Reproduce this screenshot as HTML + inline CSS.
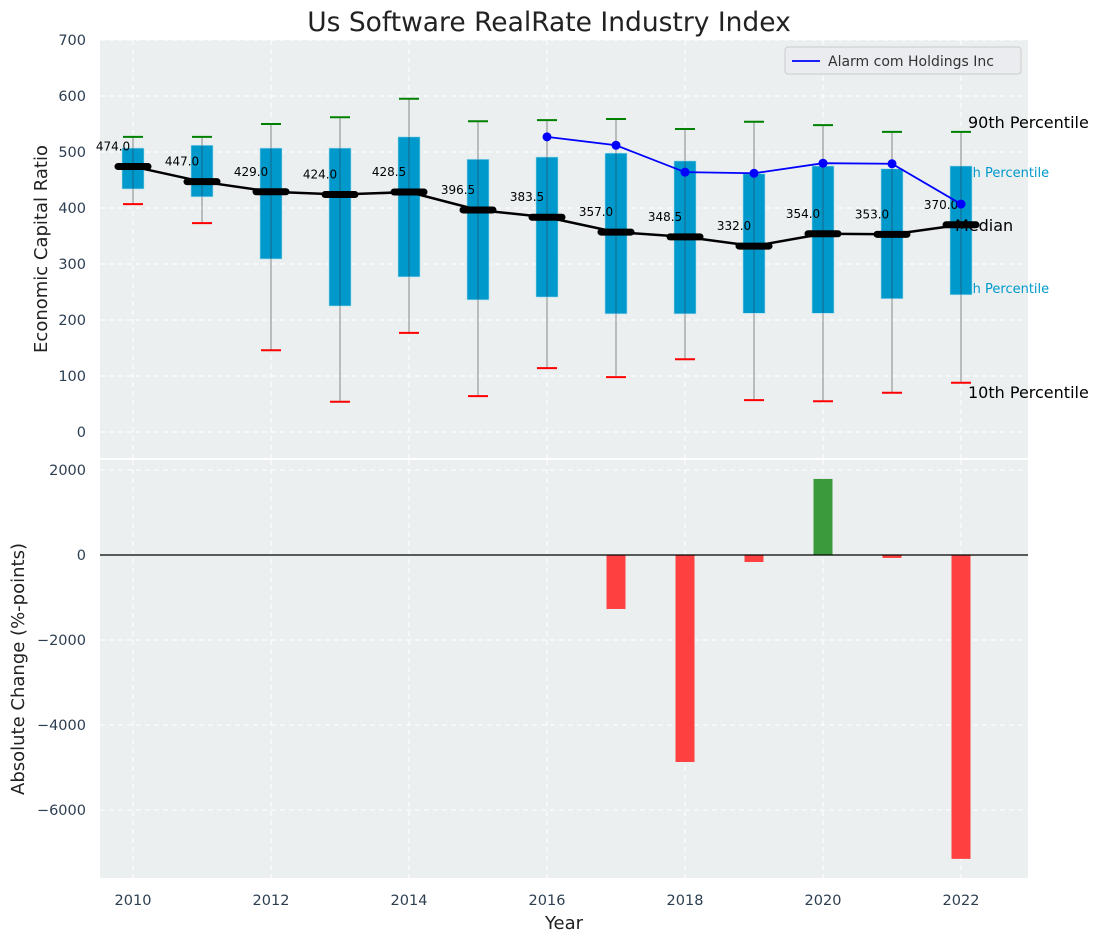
<!DOCTYPE html>
<html><head><meta charset="utf-8"><style>
body{margin:0;background:#fff;}
svg{display:block;font-family:"DejaVu Sans","Liberation Sans",sans-serif;}
</style></head><body>
<svg id="chart" width="1103" height="942" xmlns="http://www.w3.org/2000/svg"></svg>
<script>
const years=[2010,2011,2012,2013,2014,2015,2016,2017,2018,2019,2020,2021,2022];
const p90=[527,527,550,562,595,555,557,559,541,554,548,536,536];
const q75=[507,512,507,507,527,487,491,498,484,461,475,470,475];
const median=[474,447,429,424,428.5,396.5,383.5,357,348.5,332,354,353,370];
const q25=[434,420,309,225,277,236,241,211,211,212,212,238,245];
const p10=[407,373,146,54,177,64,114,98,130,57,55,70,88];
const compYears=[2016,2017,2018,2019,2020,2021,2022];
const compVals=[527,512,464,462,480,479,407];
const changeYears=[2017,2018,2019,2020,2021,2022];
const changeVals=[-1270,-4870,-165,1790,-70,-7150];
const topTicks=[0,100,200,300,400,500,600,700];
const botTicks=[2000,0,-2000,-4000,-6000];
const xTicks=[2010,2012,2014,2016,2018,2020,2022];

const NS="http://www.w3.org/2000/svg";
const svg=document.getElementById('chart');
function el(tag,attrs,parent){const e=document.createElementNS(NS,tag);for(const k in attrs)e.setAttribute(k,attrs[k]);(parent||svg).appendChild(e);return e;}
function txt(s,attrs,parent){const e=el('text',attrs,parent);e.textContent=s;return e;}
const L=100,R=1028,T1=40,B1=458,T2=460,B2=878;
const x=v=>133+(v-2010)*69;
const y1=v=>432-v*0.56;
const y2=v=>555-v*85/2000;

let r=el('rect',{x:L,y:T1,width:R-L,height:B1-T1,fill:'#ebeff0'});

r=el('rect',{x:L,y:T2,width:R-L,height:B2-T2,fill:'#ebeff0'});


for(const t of topTicks){el('line',{x1:L,x2:R,y1:y1(t),y2:y1(t),stroke:'#fff','stroke-dasharray':'5,4','stroke-width':1});
 const tl=txt(t,{x:L-14,y:y1(t)+5,'text-anchor':'end','font-size':14.5,fill:'#2c3e50'});
 }
for(const t of botTicks){el('line',{x1:L,x2:R,y1:y2(t),y2:y2(t),stroke:'#fff','stroke-dasharray':'5,4','stroke-width':1});
 const tl=txt(String(t).replace('-','\u2212'),{x:L-14,y:y2(t)+5,'text-anchor':'end','font-size':14.5,fill:'#2c3e50'});
 }
for(const t of xTicks){
 el('line',{x1:x(t),x2:x(t),y1:T1,y2:B1,stroke:'#fff','stroke-dasharray':'5,4'});
 el('line',{x1:x(t),x2:x(t),y1:T2,y2:B2,stroke:'#fff','stroke-dasharray':'5,4'});
 const tl=txt(t,{x:x(t),y:B2+27,'text-anchor':'middle','font-size':14.5,fill:'#2c3e50'});
 }

const lab=(s,a,n)=>{const t=txt(s,a);return t;};
lab('75th Percentile',{x:951,y:y1(q75[12])+11,'font-size':13,fill:'#0099cc'},'q75-label');
lab('25th Percentile',{x:951,y:y1(q25[12])-2,'font-size':13,fill:'#0099cc'},'q25-label');

years.forEach((yr,i)=>{
 const cx=x(yr);
 const g=el('g',{});
 el('line',{x1:cx,x2:cx,y1:y1(p90[i]),y2:y1(p10[i]),stroke:'#888','stroke-width':1},g);
 el('rect',{x:cx-11,y:y1(q75[i]),width:22,height:y1(q25[i])-y1(q75[i]),fill:'#0099cc',stroke:'#a8dcec','stroke-width':0.6},g);
 el('line',{x1:cx,x2:cx,y1:y1(q75[i]),y2:y1(q25[i]),stroke:'#334','stroke-width':1,opacity:0.5},g);
 el('line',{x1:cx-10,x2:cx+10,y1:y1(p90[i]),y2:y1(p90[i]),stroke:'green','stroke-width':2},g);
 el('line',{x1:cx-10,x2:cx+10,y1:y1(p10[i]),y2:y1(p10[i]),stroke:'red','stroke-width':2},g);
});

let pts=years.map((yr,i)=>x(yr)+','+y1(median[i])).join(' ');
let pl=el('polyline',{points:pts,fill:'none',stroke:'#000','stroke-width':2.5});

years.forEach((yr,i)=>{
 const m=el('line',{x1:x(yr)-15,x2:x(yr)+15,y1:y1(median[i]),y2:y1(median[i]),stroke:'#000','stroke-width':7,'stroke-linecap':'round'});
 
 const t=txt(median[i].toFixed(1),{x:x(yr)-20,y:y1(median[i])-16,'text-anchor':'middle','font-size':12,fill:'#000'});
 
});
pts=compYears.map((yr,i)=>x(yr)+','+y1(compVals[i])).join(' ');
pl=el('polyline',{points:pts,fill:'none',stroke:'blue','stroke-width':1.8});

compYears.forEach((yr,i)=>{const c=el('circle',{cx:x(yr),cy:y1(compVals[i]),r:4.5,fill:'blue'});
 });

lab('90th Percentile',{x:968,y:128,'font-size':16,fill:'#000'},'p90-label');
lab('Median',{x:955,y:231,'font-size':16,fill:'#000'},'median-label');
lab('10th Percentile',{x:968,y:398,'font-size':16,fill:'#000'},'p10-label');

const lg=el('g',{});
el('rect',{x:785,y:47,width:236,height:27,rx:3,fill:'#eaecef',stroke:'#ccc'},lg);
el('line',{x1:792,x2:820,y1:61,y2:61,stroke:'blue','stroke-width':1.8},lg);
txt('Alarm com Holdings Inc',{x:828,y:66,'font-size':14,fill:'#333'},lg);

changeYears.forEach((yr,i)=>{const v=changeVals[i];const y0=y2(0),yv=y2(v);
 const b=el('rect',{x:x(yr)-9.5,y:Math.min(y0,yv),width:19,height:Math.abs(yv-y0),fill:v>=0?'#3a9a3c':'#ff4040'});
 });
el('line',{x1:L,x2:R,y1:y2(0),y2:y2(0),stroke:'#000','stroke-width':1.2});

lab('Us Software RealRate Industry Index',{x:549,y:31,'text-anchor':'middle','font-size':26.5,fill:'#222'},'chart-title');
lab('Economic Capital Ratio',{x:47,y:249,'text-anchor':'middle','font-size':18,fill:'#222',transform:'rotate(-90 47 249)'},'top-y-axis-title');
lab('Absolute Change (%-points)',{x:24,y:669,'text-anchor':'middle','font-size':18,fill:'#222',transform:'rotate(-90 24 669)'},'bottom-y-axis-title');
lab('Year',{x:564,y:929,'text-anchor':'middle','font-size':18,fill:'#222'},'x-axis-title');
</script>
</body></html>
